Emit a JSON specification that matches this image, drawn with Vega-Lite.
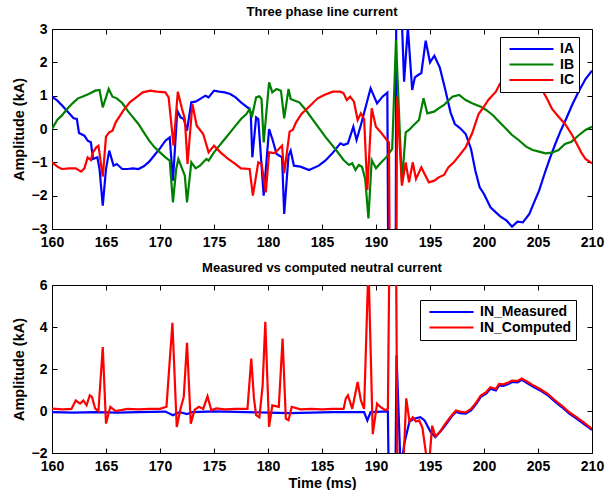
{
  "$schema": "https://vega.github.io/schema/vega-lite/v6.json",
  "padding": {"left": 10, "top": 5, "right": 5, "bottom": 2},
  "background": "white",
  "spacing": 11,
  "config": {
    "font": "Liberation Sans",
    "view": {"stroke": "black", "strokeWidth": 1},
    "axis": {"labelFont": "Liberation Sans", "labelFontWeight": "bold", "labelFontSize": 14, "labelColor": "black", "titleFont": "Liberation Sans", "titleFontWeight": "bold", "titleFontSize": 14.5, "titleColor": "black", "tickColor": "black", "tickSize": -5, "tickWidth": 1, "domain": false, "grid": false, "labelPadding": 10, "labelFlush": false, "labelOverlap": false},
    "axisX": {"labelPadding": 11},
    "title": {"font": "Liberation Sans", "fontWeight": "bold", "fontSize": 13, "color": "black", "offset": 3},
    "legend": {"labelFont": "Liberation Sans", "labelFontWeight": "bold", "labelFontSize": 14, "labelColor": "black", "strokeColor": "black", "fillColor": "white", "padding": 5, "symbolType": "M-4,0H4", "symbolSize": 121, "symbolOffset": 19.5, "symbolStrokeWidth": 2.2, "rowPadding": 1.5, "labelOffset": 21.5, "title": null}
  },
  "datasets": {
    "top": [
      {"t":160.0,"v":0.97,"s":"IA"},{"t":160.5,"v":0.85,"s":"IA"},{"t":161.0,"v":0.68,"s":"IA"},{"t":161.5,"v":0.5,"s":"IA"},{"t":162.0,"v":0.32,"s":"IA"},{"t":162.3,"v":0.3,"s":"IA"},{"t":162.5,"v":-0.12,"s":"IA"},{"t":163.0,"v":-0.2,"s":"IA"},{"t":163.3,"v":-0.35,"s":"IA"},{"t":163.6,"v":-0.4,"s":"IA"},{"t":163.8,"v":-0.9,"s":"IA"},{"t":164.2,"v":-0.85,"s":"IA"},{"t":164.4,"v":-1.2,"s":"IA"},{"t":164.7,"v":-2.3,"s":"IA"},{"t":165.0,"v":-1.2,"s":"IA"},{"t":165.3,"v":-0.65,"s":"IA"},{"t":165.7,"v":-1.1,"s":"IA"},{"t":166.0,"v":-1.05,"s":"IA"},{"t":166.5,"v":-1.2,"s":"IA"},{"t":167.0,"v":-1.2,"s":"IA"},{"t":167.5,"v":-1.18,"s":"IA"},{"t":168.0,"v":-1.2,"s":"IA"},{"t":168.5,"v":-1.12,"s":"IA"},{"t":169.0,"v":-0.98,"s":"IA"},{"t":169.5,"v":-0.78,"s":"IA"},{"t":170.0,"v":-0.58,"s":"IA"},{"t":170.5,"v":-0.35,"s":"IA"},{"t":170.9,"v":-0.25,"s":"IA"},{"t":171.2,"v":-1.55,"s":"IA"},{"t":171.6,"v":0.55,"s":"IA"},{"t":171.9,"v":0.35,"s":"IA"},{"t":172.2,"v":0.3,"s":"IA"},{"t":172.5,"v":-0.05,"s":"IA"},{"t":172.9,"v":0.8,"s":"IA"},{"t":173.3,"v":0.82,"s":"IA"},{"t":173.8,"v":0.92,"s":"IA"},{"t":174.2,"v":1.0,"s":"IA"},{"t":174.5,"v":0.95,"s":"IA"},{"t":175.0,"v":1.15,"s":"IA"},{"t":175.5,"v":1.12,"s":"IA"},{"t":176.0,"v":1.1,"s":"IA"},{"t":176.5,"v":1.05,"s":"IA"},{"t":177.0,"v":0.95,"s":"IA"},{"t":177.5,"v":0.8,"s":"IA"},{"t":178.2,"v":0.62,"s":"IA"},{"t":178.4,"v":0.5,"s":"IA"},{"t":178.55,"v":-0.85,"s":"IA"},{"t":178.9,"v":0.35,"s":"IA"},{"t":179.1,"v":0.3,"s":"IA"},{"t":179.6,"v":-2.0,"s":"IA"},{"t":180.1,"v":0.0,"s":"IA"},{"t":180.4,"v":-0.3,"s":"IA"},{"t":180.8,"v":-0.75,"s":"IA"},{"t":181.3,"v":-0.85,"s":"IA"},{"t":181.5,"v":-2.55,"s":"IA"},{"t":181.9,"v":-0.8,"s":"IA"},{"t":182.1,"v":-0.65,"s":"IA"},{"t":182.4,"v":-1.1,"s":"IA"},{"t":183.0,"v":-1.13,"s":"IA"},{"t":183.8,"v":-1.23,"s":"IA"},{"t":184.7,"v":-1.1,"s":"IA"},{"t":185.3,"v":-0.95,"s":"IA"},{"t":185.96,"v":-0.73,"s":"IA"},{"t":186.7,"v":-0.43,"s":"IA"},{"t":187.0,"v":-0.48,"s":"IA"},{"t":187.4,"v":-0.43,"s":"IA"},{"t":187.9,"v":0.07,"s":"IA"},{"t":188.2,"v":-0.33,"s":"IA"},{"t":188.6,"v":0.12,"s":"IA"},{"t":189.5,"v":1.22,"s":"IA"},{"t":190.1,"v":0.77,"s":"IA"},{"t":190.6,"v":0.97,"s":"IA"},{"t":191.05,"v":1.09,"s":"IA"},{"t":191.2,"v":-8,"s":"IA"},{"t":191.8,"v":-8,"s":"IA"},{"t":191.9,"v":8,"s":"IA"},{"t":192.2,"v":5,"s":"IA"},{"t":192.6,"v":1.42,"s":"IA"},{"t":192.95,"v":3.05,"s":"IA"},{"t":193.35,"v":1.17,"s":"IA"},{"t":193.6,"v":1.55,"s":"IA"},{"t":193.9,"v":1.62,"s":"IA"},{"t":194.2,"v":1.68,"s":"IA"},{"t":194.6,"v":2.65,"s":"IA"},{"t":195.0,"v":2.0,"s":"IA"},{"t":195.4,"v":2.2,"s":"IA"},{"t":195.9,"v":1.85,"s":"IA"},{"t":196.4,"v":1.2,"s":"IA"},{"t":196.9,"v":0.5,"s":"IA"},{"t":197.3,"v":0.15,"s":"IA"},{"t":197.8,"v":0.02,"s":"IA"},{"t":198.3,"v":-0.15,"s":"IA"},{"t":198.8,"v":-0.6,"s":"IA"},{"t":199.2,"v":-1.25,"s":"IA"},{"t":199.6,"v":-1.75,"s":"IA"},{"t":200.0,"v":-1.95,"s":"IA"},{"t":200.6,"v":-2.35,"s":"IA"},{"t":201.1,"v":-2.5,"s":"IA"},{"t":201.5,"v":-2.62,"s":"IA"},{"t":202.1,"v":-2.75,"s":"IA"},{"t":202.6,"v":-2.93,"s":"IA"},{"t":203.1,"v":-2.78,"s":"IA"},{"t":203.6,"v":-2.8,"s":"IA"},{"t":204.2,"v":-2.55,"s":"IA"},{"t":204.6,"v":-2.23,"s":"IA"},{"t":205.1,"v":-1.85,"s":"IA"},{"t":205.6,"v":-1.35,"s":"IA"},{"t":206.1,"v":-0.88,"s":"IA"},{"t":206.6,"v":-0.45,"s":"IA"},{"t":207.1,"v":-0.05,"s":"IA"},{"t":207.6,"v":0.3,"s":"IA"},{"t":208.2,"v":0.75,"s":"IA"},{"t":208.8,"v":1.15,"s":"IA"},{"t":209.4,"v":1.5,"s":"IA"},{"t":210.0,"v":1.75,"s":"IA"},
      {"t":160.0,"v":0.0,"s":"IB"},{"t":160.5,"v":0.28,"s":"IB"},{"t":160.9,"v":0.4,"s":"IB"},{"t":161.4,"v":0.6,"s":"IB"},{"t":161.9,"v":0.77,"s":"IB"},{"t":162.4,"v":0.92,"s":"IB"},{"t":162.8,"v":0.97,"s":"IB"},{"t":163.4,"v":1.05,"s":"IB"},{"t":164.0,"v":1.15,"s":"IB"},{"t":164.4,"v":1.17,"s":"IB"},{"t":164.7,"v":0.65,"s":"IB"},{"t":165.25,"v":1.2,"s":"IB"},{"t":165.6,"v":0.97,"s":"IB"},{"t":166.0,"v":0.92,"s":"IB"},{"t":166.5,"v":0.78,"s":"IB"},{"t":167.0,"v":0.55,"s":"IB"},{"t":167.5,"v":0.35,"s":"IB"},{"t":168.0,"v":0.15,"s":"IB"},{"t":168.5,"v":-0.1,"s":"IB"},{"t":169.0,"v":-0.35,"s":"IB"},{"t":169.5,"v":-0.55,"s":"IB"},{"t":170.0,"v":-0.7,"s":"IB"},{"t":170.5,"v":-0.85,"s":"IB"},{"t":170.9,"v":-0.95,"s":"IB"},{"t":171.2,"v":-2.2,"s":"IB"},{"t":171.5,"v":-1.2,"s":"IB"},{"t":171.7,"v":-0.9,"s":"IB"},{"t":172.0,"v":-1.15,"s":"IB"},{"t":172.3,"v":-1.4,"s":"IB"},{"t":172.5,"v":-2.2,"s":"IB"},{"t":172.9,"v":-1.0,"s":"IB"},{"t":173.3,"v":-1.18,"s":"IB"},{"t":173.7,"v":-1.1,"s":"IB"},{"t":174.0,"v":-1.0,"s":"IB"},{"t":174.3,"v":-0.9,"s":"IB"},{"t":174.5,"v":-0.95,"s":"IB"},{"t":175.0,"v":-0.7,"s":"IB"},{"t":175.5,"v":-0.5,"s":"IB"},{"t":176.0,"v":-0.3,"s":"IB"},{"t":176.5,"v":-0.1,"s":"IB"},{"t":177.0,"v":0.1,"s":"IB"},{"t":177.5,"v":0.3,"s":"IB"},{"t":178.0,"v":0.45,"s":"IB"},{"t":178.3,"v":0.6,"s":"IB"},{"t":178.5,"v":0.35,"s":"IB"},{"t":178.9,"v":0.95,"s":"IB"},{"t":179.2,"v":0.98,"s":"IB"},{"t":179.4,"v":0.9,"s":"IB"},{"t":179.6,"v":-0.4,"s":"IB"},{"t":180.1,"v":1.4,"s":"IB"},{"t":180.4,"v":1.1,"s":"IB"},{"t":180.8,"v":1.2,"s":"IB"},{"t":181.2,"v":1.15,"s":"IB"},{"t":181.5,"v":0.32,"s":"IB"},{"t":181.9,"v":1.2,"s":"IB"},{"t":182.1,"v":0.9,"s":"IB"},{"t":182.5,"v":0.85,"s":"IB"},{"t":182.9,"v":0.8,"s":"IB"},{"t":183.5,"v":0.57,"s":"IB"},{"t":184.4,"v":0.17,"s":"IB"},{"t":185.3,"v":-0.23,"s":"IB"},{"t":186.3,"v":-0.63,"s":"IB"},{"t":187.0,"v":-0.93,"s":"IB"},{"t":187.5,"v":-1.08,"s":"IB"},{"t":187.8,"v":-1.03,"s":"IB"},{"t":188.1,"v":-1.23,"s":"IB"},{"t":188.4,"v":-1.08,"s":"IB"},{"t":188.7,"v":-1.13,"s":"IB"},{"t":189.0,"v":-1.5,"s":"IB"},{"t":189.3,"v":-2.68,"s":"IB"},{"t":189.6,"v":-0.93,"s":"IB"},{"t":190.0,"v":-1.18,"s":"IB"},{"t":190.4,"v":-1.03,"s":"IB"},{"t":191.0,"v":-0.83,"s":"IB"},{"t":191.5,"v":-0.6,"s":"IB"},{"t":191.85,"v":2.67,"s":"IB"},{"t":192.4,"v":-1.6,"s":"IB"},{"t":192.75,"v":-0.1,"s":"IB"},{"t":193.06,"v":-0.03,"s":"IB"},{"t":193.5,"v":0.12,"s":"IB"},{"t":193.98,"v":0.27,"s":"IB"},{"t":194.4,"v":0.92,"s":"IB"},{"t":194.75,"v":0.47,"s":"IB"},{"t":195.37,"v":0.52,"s":"IB"},{"t":195.8,"v":0.62,"s":"IB"},{"t":196.3,"v":0.72,"s":"IB"},{"t":196.6,"v":0.82,"s":"IB"},{"t":197.07,"v":0.97,"s":"IB"},{"t":197.7,"v":1.02,"s":"IB"},{"t":198.3,"v":0.87,"s":"IB"},{"t":198.9,"v":0.77,"s":"IB"},{"t":199.7,"v":0.67,"s":"IB"},{"t":200.2,"v":0.57,"s":"IB"},{"t":200.8,"v":0.42,"s":"IB"},{"t":201.4,"v":0.22,"s":"IB"},{"t":202.0,"v":0.02,"s":"IB"},{"t":202.6,"v":-0.18,"s":"IB"},{"t":203.2,"v":-0.33,"s":"IB"},{"t":203.9,"v":-0.53,"s":"IB"},{"t":204.5,"v":-0.63,"s":"IB"},{"t":205.1,"v":-0.68,"s":"IB"},{"t":205.7,"v":-0.73,"s":"IB"},{"t":206.3,"v":-0.71,"s":"IB"},{"t":206.9,"v":-0.63,"s":"IB"},{"t":207.5,"v":-0.45,"s":"IB"},{"t":208.1,"v":-0.38,"s":"IB"},{"t":208.8,"v":-0.18,"s":"IB"},{"t":209.4,"v":-0.03,"s":"IB"},{"t":210.0,"v":0.07,"s":"IB"},
      {"t":160.0,"v":-1.0,"s":"IC"},{"t":160.5,"v":-1.13,"s":"IC"},{"t":160.9,"v":-1.2,"s":"IC"},{"t":161.6,"v":-1.18,"s":"IC"},{"t":162.2,"v":-1.18,"s":"IC"},{"t":162.7,"v":-1.28,"s":"IC"},{"t":163.0,"v":-1.18,"s":"IC"},{"t":163.3,"v":-0.85,"s":"IC"},{"t":163.6,"v":-0.93,"s":"IC"},{"t":163.8,"v":-0.7,"s":"IC"},{"t":164.1,"v":-0.55,"s":"IC"},{"t":164.3,"v":-0.5,"s":"IC"},{"t":164.7,"v":-1.43,"s":"IC"},{"t":165.0,"v":-0.23,"s":"IC"},{"t":165.3,"v":-0.1,"s":"IC"},{"t":165.6,"v":-0.05,"s":"IC"},{"t":165.9,"v":0.2,"s":"IC"},{"t":166.6,"v":0.55,"s":"IC"},{"t":167.2,"v":0.8,"s":"IC"},{"t":167.8,"v":0.95,"s":"IC"},{"t":168.4,"v":1.1,"s":"IC"},{"t":169.1,"v":1.15,"s":"IC"},{"t":169.7,"v":1.12,"s":"IC"},{"t":170.5,"v":1.1,"s":"IC"},{"t":170.8,"v":0.95,"s":"IC"},{"t":171.25,"v":-0.5,"s":"IC"},{"t":171.65,"v":1.12,"s":"IC"},{"t":172.0,"v":0.65,"s":"IC"},{"t":172.3,"v":0.3,"s":"IC"},{"t":172.55,"v":-1.05,"s":"IC"},{"t":173.0,"v":0.75,"s":"IC"},{"t":173.4,"v":0.1,"s":"IC"},{"t":174.0,"v":-0.15,"s":"IC"},{"t":174.5,"v":-0.7,"s":"IC"},{"t":175.0,"v":-0.5,"s":"IC"},{"t":175.6,"v":-0.7,"s":"IC"},{"t":176.25,"v":-0.88,"s":"IC"},{"t":176.9,"v":-1.03,"s":"IC"},{"t":177.5,"v":-1.18,"s":"IC"},{"t":178.3,"v":-1.2,"s":"IC"},{"t":178.6,"v":-2.0,"s":"IC"},{"t":179.1,"v":-1.0,"s":"IC"},{"t":179.4,"v":-1.05,"s":"IC"},{"t":179.8,"v":-1.9,"s":"IC"},{"t":180.1,"v":-0.7,"s":"IC"},{"t":180.6,"v":-0.72,"s":"IC"},{"t":181.0,"v":-0.6,"s":"IC"},{"t":181.3,"v":-0.5,"s":"IC"},{"t":181.5,"v":-1.33,"s":"IC"},{"t":182.0,"v":-0.08,"s":"IC"},{"t":182.3,"v":-0.02,"s":"IC"},{"t":182.6,"v":0.2,"s":"IC"},{"t":183.1,"v":0.45,"s":"IC"},{"t":183.8,"v":0.67,"s":"IC"},{"t":184.6,"v":0.92,"s":"IC"},{"t":185.2,"v":1.02,"s":"IC"},{"t":186.0,"v":1.12,"s":"IC"},{"t":186.7,"v":1.12,"s":"IC"},{"t":187.0,"v":1.07,"s":"IC"},{"t":187.3,"v":0.87,"s":"IC"},{"t":187.6,"v":0.97,"s":"IC"},{"t":187.96,"v":0.82,"s":"IC"},{"t":188.3,"v":0.27,"s":"IC"},{"t":188.6,"v":0.47,"s":"IC"},{"t":188.9,"v":0.3,"s":"IC"},{"t":189.2,"v":-1.83,"s":"IC"},{"t":189.6,"v":0.62,"s":"IC"},{"t":189.99,"v":0.07,"s":"IC"},{"t":190.4,"v":-0.08,"s":"IC"},{"t":191.0,"v":-0.33,"s":"IC"},{"t":191.2,"v":-0.4,"s":"IC"},{"t":191.35,"v":-8,"s":"IC"},{"t":191.85,"v":-8,"s":"IC"},{"t":191.95,"v":0.97,"s":"IC"},{"t":192.4,"v":-1.7,"s":"IC"},{"t":192.75,"v":-1.0,"s":"IC"},{"t":193.06,"v":-1.6,"s":"IC"},{"t":193.4,"v":-1.0,"s":"IC"},{"t":193.7,"v":-1.5,"s":"IC"},{"t":194.2,"v":-1.15,"s":"IC"},{"t":194.5,"v":-1.35,"s":"IC"},{"t":194.9,"v":-1.6,"s":"IC"},{"t":195.4,"v":-1.55,"s":"IC"},{"t":195.8,"v":-1.45,"s":"IC"},{"t":196.3,"v":-1.38,"s":"IC"},{"t":196.7,"v":-1.15,"s":"IC"},{"t":197.2,"v":-1.0,"s":"IC"},{"t":197.7,"v":-0.8,"s":"IC"},{"t":198.3,"v":-0.55,"s":"IC"},{"t":198.9,"v":-0.13,"s":"IC"},{"t":199.5,"v":0.45,"s":"IC"},{"t":200.0,"v":0.67,"s":"IC"},{"t":200.4,"v":0.87,"s":"IC"},{"t":201.1,"v":1.12,"s":"IC"},{"t":201.5,"v":1.37,"s":"IC"},{"t":202.2,"v":1.6,"s":"IC"},{"t":203.0,"v":1.75,"s":"IC"},{"t":203.7,"v":1.8,"s":"IC"},{"t":204.4,"v":1.7,"s":"IC"},{"t":205.0,"v":1.45,"s":"IC"},{"t":205.3,"v":1.22,"s":"IC"},{"t":205.9,"v":0.87,"s":"IC"},{"t":206.3,"v":0.6,"s":"IC"},{"t":206.9,"v":0.37,"s":"IC"},{"t":207.5,"v":0.15,"s":"IC"},{"t":208.1,"v":-0.15,"s":"IC"},{"t":208.6,"v":-0.45,"s":"IC"},{"t":209.0,"v":-0.7,"s":"IC"},{"t":209.4,"v":-0.9,"s":"IC"},{"t":210.0,"v":-1.03,"s":"IC"}
    ],
    "bottom": [
      {"t":160.0,"v":-0.05,"s":"IN_Measured"},{"t":162.0,"v":-0.08,"s":"IN_Measured"},{"t":164.0,"v":-0.05,"s":"IN_Measured"},{"t":166.0,"v":-0.08,"s":"IN_Measured"},{"t":168.0,"v":-0.05,"s":"IN_Measured"},{"t":170.5,"v":-0.03,"s":"IN_Measured"},{"t":171.2,"v":-0.2,"s":"IN_Measured"},{"t":171.8,"v":-0.05,"s":"IN_Measured"},{"t":172.5,"v":-0.15,"s":"IN_Measured"},{"t":173.0,"v":-0.05,"s":"IN_Measured"},{"t":175.0,"v":-0.02,"s":"IN_Measured"},{"t":178.0,"v":-0.05,"s":"IN_Measured"},{"t":180.0,"v":-0.08,"s":"IN_Measured"},{"t":182.0,"v":-0.1,"s":"IN_Measured"},{"t":184.0,"v":-0.08,"s":"IN_Measured"},{"t":186.0,"v":-0.05,"s":"IN_Measured"},{"t":188.0,"v":-0.05,"s":"IN_Measured"},{"t":188.9,"v":-0.05,"s":"IN_Measured"},{"t":189.2,"v":-0.45,"s":"IN_Measured"},{"t":189.5,"v":-0.05,"s":"IN_Measured"},{"t":191.1,"v":-0.02,"s":"IN_Measured"},{"t":191.25,"v":-6,"s":"IN_Measured"},{"t":191.75,"v":-6,"s":"IN_Measured"},{"t":191.9,"v":2.65,"s":"IN_Measured"},{"t":192.3,"v":-3,"s":"IN_Measured"},{"t":192.6,"v":-1.6,"s":"IN_Measured"},{"t":193.1,"v":-0.5,"s":"IN_Measured"},{"t":193.5,"v":-0.37,"s":"IN_Measured"},{"t":194.1,"v":-0.29,"s":"IN_Measured"},{"t":194.5,"v":-0.45,"s":"IN_Measured"},{"t":195.06,"v":-1.0,"s":"IN_Measured"},{"t":195.5,"v":-1.24,"s":"IN_Measured"},{"t":196.0,"v":-0.95,"s":"IN_Measured"},{"t":196.3,"v":-0.76,"s":"IN_Measured"},{"t":196.75,"v":-0.44,"s":"IN_Measured"},{"t":197.1,"v":-0.2,"s":"IN_Measured"},{"t":197.4,"v":-0.05,"s":"IN_Measured"},{"t":197.8,"v":-0.1,"s":"IN_Measured"},{"t":198.3,"v":-0.13,"s":"IN_Measured"},{"t":198.8,"v":0.03,"s":"IN_Measured"},{"t":199.3,"v":0.35,"s":"IN_Measured"},{"t":199.7,"v":0.67,"s":"IN_Measured"},{"t":200.2,"v":0.83,"s":"IN_Measured"},{"t":200.6,"v":1.06,"s":"IN_Measured"},{"t":201.1,"v":0.98,"s":"IN_Measured"},{"t":201.4,"v":1.22,"s":"IN_Measured"},{"t":201.8,"v":1.2,"s":"IN_Measured"},{"t":202.3,"v":1.3,"s":"IN_Measured"},{"t":202.6,"v":1.38,"s":"IN_Measured"},{"t":203.1,"v":1.36,"s":"IN_Measured"},{"t":203.5,"v":1.48,"s":"IN_Measured"},{"t":204.1,"v":1.3,"s":"IN_Measured"},{"t":204.6,"v":1.14,"s":"IN_Measured"},{"t":205.2,"v":0.98,"s":"IN_Measured"},{"t":205.9,"v":0.75,"s":"IN_Measured"},{"t":206.6,"v":0.43,"s":"IN_Measured"},{"t":207.2,"v":0.19,"s":"IN_Measured"},{"t":207.9,"v":-0.13,"s":"IN_Measured"},{"t":208.6,"v":-0.37,"s":"IN_Measured"},{"t":209.2,"v":-0.6,"s":"IN_Measured"},{"t":210.0,"v":-0.9,"s":"IN_Measured"},
      {"t":160.0,"v":0.11,"s":"IN_Computed"},{"t":161.0,"v":0.08,"s":"IN_Computed"},{"t":161.8,"v":0.1,"s":"IN_Computed"},{"t":162.2,"v":0.5,"s":"IN_Computed"},{"t":162.6,"v":0.35,"s":"IN_Computed"},{"t":162.9,"v":0.5,"s":"IN_Computed"},{"t":163.2,"v":0.27,"s":"IN_Computed"},{"t":163.5,"v":0.75,"s":"IN_Computed"},{"t":163.7,"v":0.67,"s":"IN_Computed"},{"t":164.0,"v":0.11,"s":"IN_Computed"},{"t":164.3,"v":0.0,"s":"IN_Computed"},{"t":164.7,"v":3.05,"s":"IN_Computed"},{"t":165.0,"v":-0.6,"s":"IN_Computed"},{"t":165.4,"v":0.2,"s":"IN_Computed"},{"t":165.9,"v":0.0,"s":"IN_Computed"},{"t":166.5,"v":0.05,"s":"IN_Computed"},{"t":167.0,"v":0.1,"s":"IN_Computed"},{"t":168.0,"v":0.08,"s":"IN_Computed"},{"t":169.0,"v":0.1,"s":"IN_Computed"},{"t":170.0,"v":0.1,"s":"IN_Computed"},{"t":170.6,"v":0.2,"s":"IN_Computed"},{"t":171.15,"v":4.2,"s":"IN_Computed"},{"t":171.55,"v":-0.76,"s":"IN_Computed"},{"t":171.9,"v":0.11,"s":"IN_Computed"},{"t":172.2,"v":0.67,"s":"IN_Computed"},{"t":172.5,"v":3.25,"s":"IN_Computed"},{"t":172.85,"v":-0.6,"s":"IN_Computed"},{"t":173.2,"v":0.05,"s":"IN_Computed"},{"t":173.6,"v":0.2,"s":"IN_Computed"},{"t":174.0,"v":0.1,"s":"IN_Computed"},{"t":174.4,"v":0.7,"s":"IN_Computed"},{"t":174.75,"v":0.03,"s":"IN_Computed"},{"t":175.2,"v":0.12,"s":"IN_Computed"},{"t":176.0,"v":0.08,"s":"IN_Computed"},{"t":177.0,"v":0.1,"s":"IN_Computed"},{"t":178.1,"v":0.1,"s":"IN_Computed"},{"t":178.45,"v":2.5,"s":"IN_Computed"},{"t":178.7,"v":0.6,"s":"IN_Computed"},{"t":178.9,"v":-0.2,"s":"IN_Computed"},{"t":179.2,"v":-0.3,"s":"IN_Computed"},{"t":179.5,"v":1.2,"s":"IN_Computed"},{"t":179.75,"v":4.25,"s":"IN_Computed"},{"t":180.1,"v":-0.76,"s":"IN_Computed"},{"t":180.4,"v":0.27,"s":"IN_Computed"},{"t":181.0,"v":0.2,"s":"IN_Computed"},{"t":181.35,"v":3.45,"s":"IN_Computed"},{"t":181.65,"v":-0.36,"s":"IN_Computed"},{"t":181.9,"v":-0.44,"s":"IN_Computed"},{"t":182.2,"v":0.2,"s":"IN_Computed"},{"t":183.0,"v":0.08,"s":"IN_Computed"},{"t":184.0,"v":0.1,"s":"IN_Computed"},{"t":185.0,"v":0.08,"s":"IN_Computed"},{"t":186.0,"v":0.1,"s":"IN_Computed"},{"t":187.0,"v":0.1,"s":"IN_Computed"},{"t":187.2,"v":0.59,"s":"IN_Computed"},{"t":187.4,"v":0.75,"s":"IN_Computed"},{"t":187.8,"v":0.1,"s":"IN_Computed"},{"t":188.3,"v":1.38,"s":"IN_Computed"},{"t":188.6,"v":0.5,"s":"IN_Computed"},{"t":188.9,"v":0.1,"s":"IN_Computed"},{"t":189.3,"v":7,"s":"IN_Computed"},{"t":189.7,"v":-1.1,"s":"IN_Computed"},{"t":190.1,"v":0.35,"s":"IN_Computed"},{"t":190.4,"v":0.19,"s":"IN_Computed"},{"t":190.9,"v":0.03,"s":"IN_Computed"},{"t":191.1,"v":0.11,"s":"IN_Computed"},{"t":191.25,"v":8,"s":"IN_Computed"},{"t":191.85,"v":8,"s":"IN_Computed"},{"t":192.0,"v":-4,"s":"IN_Computed"},{"t":192.5,"v":-3,"s":"IN_Computed"},{"t":192.8,"v":0.6,"s":"IN_Computed"},{"t":193.1,"v":-0.5,"s":"IN_Computed"},{"t":193.4,"v":-0.3,"s":"IN_Computed"},{"t":193.7,"v":-0.5,"s":"IN_Computed"},{"t":194.0,"v":-0.45,"s":"IN_Computed"},{"t":194.3,"v":-0.8,"s":"IN_Computed"},{"t":194.7,"v":-2.3,"s":"IN_Computed"},{"t":194.95,"v":-2.3,"s":"IN_Computed"},{"t":195.2,"v":-0.7,"s":"IN_Computed"},{"t":195.5,"v":-1.2,"s":"IN_Computed"},{"t":195.9,"v":-1.0,"s":"IN_Computed"},{"t":196.3,"v":-0.7,"s":"IN_Computed"},{"t":196.75,"v":-0.38,"s":"IN_Computed"},{"t":197.1,"v":-0.15,"s":"IN_Computed"},{"t":197.4,"v":0.02,"s":"IN_Computed"},{"t":197.8,"v":-0.03,"s":"IN_Computed"},{"t":198.3,"v":-0.07,"s":"IN_Computed"},{"t":198.8,"v":0.1,"s":"IN_Computed"},{"t":199.3,"v":0.42,"s":"IN_Computed"},{"t":199.7,"v":0.74,"s":"IN_Computed"},{"t":200.2,"v":0.9,"s":"IN_Computed"},{"t":200.6,"v":1.13,"s":"IN_Computed"},{"t":201.1,"v":1.05,"s":"IN_Computed"},{"t":201.4,"v":1.29,"s":"IN_Computed"},{"t":201.8,"v":1.27,"s":"IN_Computed"},{"t":202.3,"v":1.37,"s":"IN_Computed"},{"t":202.6,"v":1.45,"s":"IN_Computed"},{"t":203.1,"v":1.43,"s":"IN_Computed"},{"t":203.5,"v":1.55,"s":"IN_Computed"},{"t":204.1,"v":1.37,"s":"IN_Computed"},{"t":204.6,"v":1.21,"s":"IN_Computed"},{"t":205.2,"v":1.05,"s":"IN_Computed"},{"t":205.9,"v":0.82,"s":"IN_Computed"},{"t":206.6,"v":0.5,"s":"IN_Computed"},{"t":207.2,"v":0.26,"s":"IN_Computed"},{"t":207.9,"v":-0.06,"s":"IN_Computed"},{"t":208.6,"v":-0.3,"s":"IN_Computed"},{"t":209.2,"v":-0.53,"s":"IN_Computed"},{"t":210.0,"v":-0.85,"s":"IN_Computed"}
    ]
  },
  "vconcat": [
    {
      "title": "Three phase line current",
      "width": 540,
      "height": 200,
      "data": {"name": "top"},
      "layer": [
        {
          "mark": {"type": "line", "clip": true, "strokeWidth": 2.2},
          "encoding": {
            "x": {"field": "t", "type": "quantitative", "scale": {"domain": [160, 210], "nice": false, "zero": false}, "axis": {"orient": "bottom", "values": [160,165,170,175,180,185,190,195,200,205,210], "title": null}},
            "y": {"field": "v", "type": "quantitative", "scale": {"domain": [-3, 3], "nice": false, "zero": false}, "axis": {"orient": "left", "values": [-3,-2,-1,0,1,2,3], "title": "Amplitude (kA)", "titlePadding": 5}},
            "color": {"field": "s", "type": "nominal", "scale": {"domain": ["IA","IB","IC"], "range": ["#0000FF","#008000","#FF0000"]}, "legend": {"orient": "none", "legendX": 448, "legendY": 8}},
            "order": {"field": "t"}
          }
        },
        {
          "mark": {"type": "line", "clip": true, "strokeOpacity": 0},
          "encoding": {
            "x": {"field": "t", "type": "quantitative", "axis": {"orient": "top", "values": [160,165,170,175,180,185,190,195,200,205,210], "labels": false, "title": null}},
            "y": {"field": "v", "type": "quantitative", "axis": {"orient": "right", "values": [-3,-2,-1,0,1,2,3], "labels": false, "title": null}},
            "detail": {"field": "s"}
          }
        }
      ],
      "resolve": {"axis": {"x": "independent", "y": "independent"}}
    },
    {
      "title": "Measured vs computed neutral current",
      "width": 540,
      "height": 168,
      "data": {"name": "bottom"},
      "layer": [
        {
          "mark": {"type": "line", "clip": true, "strokeWidth": 2.2},
          "encoding": {
            "x": {"field": "t", "type": "quantitative", "scale": {"domain": [160, 210], "nice": false, "zero": false}, "axis": {"orient": "bottom", "values": [160,165,170,175,180,185,190,195,200,205,210], "title": "Time (ms)", "titlePadding": 3}},
            "y": {"field": "v", "type": "quantitative", "scale": {"domain": [-2, 6], "nice": false, "zero": false}, "axis": {"orient": "left", "values": [-2,0,2,4,6], "title": "Amplitude (kA)", "titlePadding": 5}},
            "color": {"field": "s", "type": "nominal", "scale": {"domain": ["IN_Measured","IN_Computed"], "range": ["#0000FF","#FF0000"]}, "legend": {"orient": "none", "legendX": 368, "legendY": 15}},
            "order": {"field": "t"}
          }
        },
        {
          "mark": {"type": "line", "clip": true, "strokeOpacity": 0},
          "encoding": {
            "x": {"field": "t", "type": "quantitative", "axis": {"orient": "top", "values": [160,165,170,175,180,185,190,195,200,205,210], "labels": false, "title": null}},
            "y": {"field": "v", "type": "quantitative", "axis": {"orient": "right", "values": [-2,0,2,4,6], "labels": false, "title": null}},
            "detail": {"field": "s"}
          }
        }
      ],
      "resolve": {"axis": {"x": "independent", "y": "independent"}}
    }
  ],
  "resolve": {"scale": {"x": "independent", "y": "independent", "color": "independent"}, "legend": {"color": "independent"}}
}
